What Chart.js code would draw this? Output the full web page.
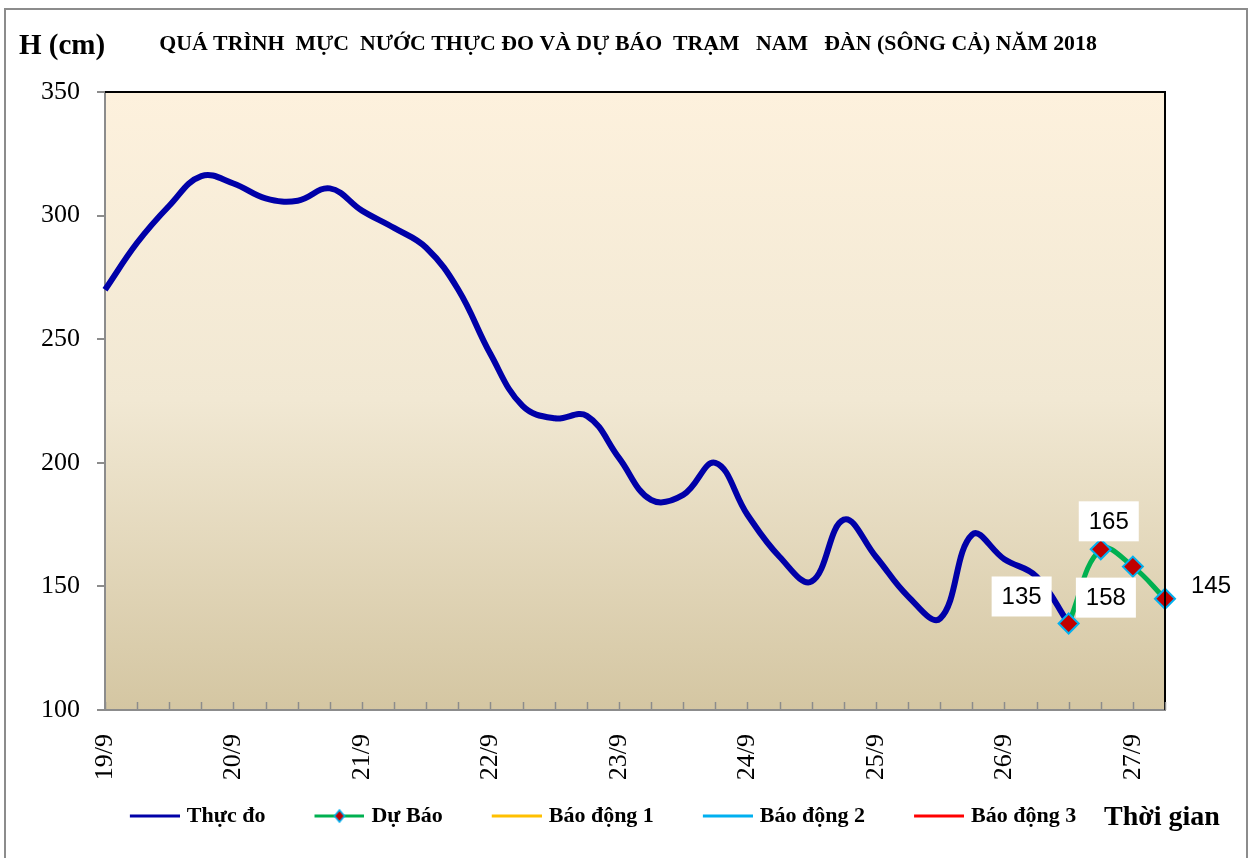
<!DOCTYPE html>
<html>
<head>
<meta charset="utf-8">
<script src="https://cdn.jsdelivr.net/npm/chart.js@4.4.0/dist/chart.umd.min.js"></script>
<style>
    html, body { margin: 0; padding: 0; background: #fff; }
    #wrap { width: 1251px; height: 858px; }
</style>
</head>
<body>
<div id="wrap"><canvas id="ChartCanvas" width="1251" height="858"></canvas></div>
<script>
// 6-hourly steps from 19/9 00h to 27/9 06h
const timeLabels = [
    '19/9', '', '', '', '20/9', '', '', '', '21/9', '', '', '',
    '22/9', '', '', '', '23/9', '', '', '', '24/9', '', '', '',
    '25/9', '', '', '', '26/9', '', '', '', '27/9', ''
];

// observed water level (cm)
const thucDo = [
    270, 289, 304, 316, 313, 307, 306, 311, 302, 295, 287, 270,
    244, 223, 218, 219, 202, 185, 187, 200, 179, 162, 152, 177,
    162, 146, 137, 171, 161, 154, 135
];

// forecast (cm), starting at step 30
const duBao = [135, 165, 158, 145];
const duBaoStart = 30;

const seriesNames = ['Thực đo', 'Dự Báo', 'Báo động 1', 'Báo động 2', 'Báo động 3'];
const yTicks = [100, 150, 200, 250, 300, 350];

const chartTitle = 'QUÁ TRÌNH  MỰC  NƯỚC THỰC ĐO VÀ DỰ BÁO  TRẠM   NAM   ĐÀN (SÔNG CẢ) NĂM 2018';
const yTitle = 'H (cm)';
const xTitle = 'Thời gian';

Initialize();

function Initialize()
{
    const colors = ['#0000A8', '#00B050', '#FFC000', '#00B0F0', '#FF0000'];
    const markerFill = '#C00000';
    const markerBorder = '#00B0F0';
    const serif = '"Liberation Serif", "Times New Roman", serif';

    // legend symbols: box is 80 wide, icon canvas 88 wide so the line ends close to the text
    const boxW = 80;
    function makeIcon(color, withMarker) {
        const c = document.createElement('canvas');
        c.width = 88; c.height = 16;
        const g = c.getContext('2d');
        g.strokeStyle = color;
        g.lineWidth = 3;
        g.beginPath(); g.moveTo(38, 8); g.lineTo(88, 8); g.stroke();
        if (withMarker) {
            g.beginPath();
            g.moveTo(63, 2); g.lineTo(68, 8); g.lineTo(63, 14); g.lineTo(58, 8); g.closePath();
            g.fillStyle = markerFill; g.fill();
            g.lineWidth = 1.5; g.strokeStyle = markerBorder; g.stroke();
        }
        return c;
    }
    const legendIcons = colors.map((c, i) => makeIcon(c, i === 1));

    const obsData = thucDo.slice();
    const fcData = new Array(duBaoStart).fill(null).concat(duBao);

    const labelOffsets = [[-47, -27], [8, -28], [-27, 31], [46, -13]];

    const backgroundPlugin = {
        id: 'background',
        beforeDraw(chart) {
            const ctx = chart.ctx;
            const a = chart.chartArea;
            ctx.save();
            ctx.fillStyle = '#fff';
            ctx.fillRect(0, 0, chart.width, chart.height);
            ctx.strokeStyle = '#8c8c8c';
            ctx.lineWidth = 2;
            ctx.strokeRect(5, 9, 1242, 870);
            const grad = ctx.createLinearGradient(0, a.top, 0, a.bottom);
            grad.addColorStop(0, '#FDF1DD');
            grad.addColorStop(0.5, '#F1E8D3');
            grad.addColorStop(1, '#D4C6A2');
            ctx.fillStyle = grad;
            ctx.fillRect(a.left, a.top, a.right - a.left, a.bottom - a.top);
            ctx.restore();
        },
        afterDraw(chart) {
            const ctx = chart.ctx;
            const a = chart.chartArea;
            const xs = chart.scales.x;
            ctx.save();
            // plot border top/right
            ctx.strokeStyle = '#000';
            ctx.lineWidth = 2;
            ctx.beginPath();
            ctx.moveTo(a.left, a.top); ctx.lineTo(a.right, a.top); ctx.lineTo(a.right, a.bottom);
            ctx.stroke();
            // inner tick marks on x axis
            ctx.strokeStyle = '#8c8c8c';
            ctx.lineWidth = 1.5;
            for (let i = 0; i < timeLabels.length; i++) {
                const x = Math.round(xs.getPixelForValue(i)) + 0.5;
                ctx.beginPath(); ctx.moveTo(x, a.bottom); ctx.lineTo(x, a.bottom - 8); ctx.stroke();
            }
            // texts
            ctx.fillStyle = '#000';
            ctx.textBaseline = 'middle';
            ctx.textAlign = 'center';
            ctx.font = 'bold 21.8px ' + serif;
            ctx.fillText(chartTitle, 628, 44);
            ctx.textAlign = 'left';
            ctx.font = 'bold 29px ' + serif;
            ctx.fillText(yTitle, 19, 47);
            ctx.font = 'bold 28px ' + serif;
            ctx.fillText(xTitle, 1104, 818);
            ctx.restore();
        }
    };

    const dataLabelPlugin = {
        id: 'dataLabels',
        afterDatasetsDraw(chart) {
            const ctx = chart.ctx;
            const meta = chart.getDatasetMeta(1);
            ctx.save();
            ctx.font = '24px "Liberation Sans", Arial, sans-serif';
            ctx.textAlign = 'center';
            ctx.textBaseline = 'middle';
            duBao.forEach((v, j) => {
                const pt = meta.data[duBaoStart + j];
                const off = labelOffsets[j];
                const cx = pt.x + off[0];
                const cy = pt.y + off[1];
                ctx.fillStyle = '#fff';
                ctx.fillRect(cx - 30, cy - 20, 60, 40);
                ctx.fillStyle = '#000';
                ctx.fillText(String(v), cx, cy + 1);
            });
            ctx.restore();
        }
    };

    const ctx = document.getElementById('ChartCanvas').getContext('2d');
    const chart = new Chart(ctx, {
        type: 'line',
        data: {
            labels: timeLabels,
            datasets: [
                {
                    label: seriesNames[0],
                    data: obsData,
                    borderColor: colors[0],
                    backgroundColor: colors[0],
                    borderWidth: 6,
                    pointRadius: 0,
                    tension: 0.4,
                    order: 1
                },
                {
                    label: seriesNames[1],
                    data: fcData,
                    borderColor: colors[1],
                    backgroundColor: markerFill,
                    borderWidth: 5,
                    pointStyle: 'rectRot',
                    pointRadius: 10,
                    pointBackgroundColor: markerFill,
                    pointBorderColor: markerBorder,
                    pointBorderWidth: 2,
                    tension: 0.4,
                    order: 0
                },
                { label: seriesNames[2], data: [], borderColor: colors[2], backgroundColor: colors[2], order: 2 },
                { label: seriesNames[3], data: [], borderColor: colors[3], backgroundColor: colors[3], order: 3 },
                { label: seriesNames[4], data: [], borderColor: colors[4], backgroundColor: colors[4], order: 4 }
            ]
        },
        options: {
            responsive: false,
            animation: false,
            layout: { padding: { left: 7, right: 86, top: 92, bottom: 21 } },
            scales: {
                x: {
                    type: 'category',
                    offset: false,
                    grid: { display: true, drawOnChartArea: false, drawTicks: false, color: '#8c8c8c' },
                    border: { display: true, color: '#8c8c8c', width: 2 },
                    ticks: {
                        autoSkip: false,
                        minRotation: 90,
                        maxRotation: 90,
                        padding: 24,
                        color: '#000',
                        font: { family: serif, size: 26 }
                    },
                    afterFit(scale) { scale.height = 80; }
                },
                y: {
                    min: yTicks[0],
                    max: yTicks[yTicks.length - 1],
                    afterBuildTicks(scale) { scale.ticks = yTicks.map(v => ({ value: v })); },
                    grid: { drawOnChartArea: false, drawTicks: true, tickLength: 8, color: '#8c8c8c', lineWidth: 2 },
                    border: { display: true, color: '#8c8c8c', width: 2 },
                    ticks: {
                        padding: 17,
                        color: '#000',
                        font: { family: serif, size: 26 }
                    },
                    afterFit(scale) { scale.width = 98; }
                }
            },
            plugins: {
                title: { display: false },
                tooltip: { enabled: false },
                legend: {
                    display: true,
                    position: 'bottom',
                    labels: {
                        usePointStyle: true,
                        pointStyleWidth: boxW,
                        padding: 15,
                        color: '#000',
                        font: { family: serif, size: 22, weight: 'bold' },
                        sort: (a, b) => a.datasetIndex - b.datasetIndex,
                        generateLabels(ch) {
                            const items = Chart.defaults.plugins.legend.labels.generateLabels(ch);
                            items.forEach(it => { it.pointStyle = legendIcons[it.datasetIndex]; });
                            return items;
                        }
                    }
                }
            }
        },
        plugins: [backgroundPlugin, dataLabelPlugin]
    });
}
</script>
</body>
</html>
